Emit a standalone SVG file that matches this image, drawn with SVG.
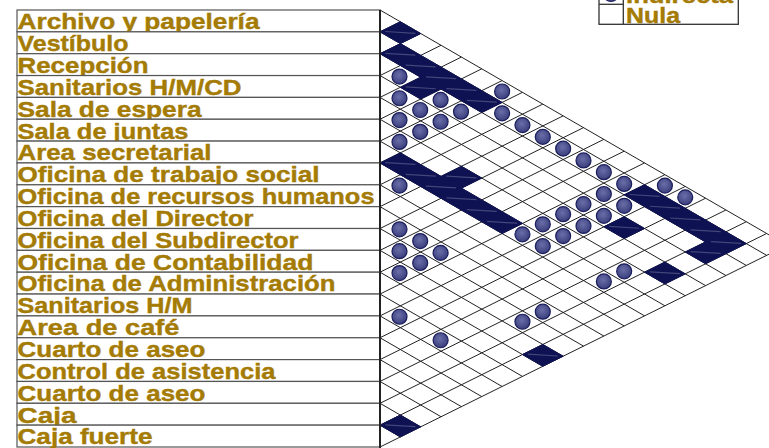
<svg xmlns="http://www.w3.org/2000/svg" width="769" height="448" viewBox="0 0 769 448">
<style>
.lbl{font-family:"Liberation Sans",Arial,sans-serif;font-weight:bold;font-size:22px;fill:#a47b05;stroke:#a47b05;stroke-width:0.4}
.row{fill:#fff;stroke:#555;stroke-width:1.2}
.grid{fill:none;stroke:#222;stroke-width:1}
.dk{fill:#0e1253;stroke:#0e1253;stroke-width:1}
.st{stroke:#ffffff;stroke-opacity:0.22;stroke-width:1.2;fill:none}
.ci{fill:url(#cg);stroke:#1b1e5c;stroke-width:1.2}
</style>
<defs>
<radialGradient id="cg" cx="0.45" cy="0.4" r="0.6">
<stop offset="0" stop-color="#6a6ea8"/>
<stop offset="1" stop-color="#3a3e7c"/>
</radialGradient>
<g id="D"><path class="dk" d="M-20.35,-0.84 L0,-10.925 L20.35,0.84 L0,10.925 Z"/><path class="st" d="M-15,-1.2 L15,0.6"/></g>
<circle id="C" class="ci" r="7.5"/>
</defs>
<rect width="769" height="448" fill="#fff"/>
<g id="legend">
<rect x="599" y="-40" width="139.3" height="64.3" fill="#fff" stroke="#333" stroke-width="1.3"/>
<line x1="623.3" y1="-40" x2="623.3" y2="24.3" stroke="#333" stroke-width="1.3"/>
<line x1="599" y1="4.3" x2="623.3" y2="4.3" stroke="#333" stroke-width="1.3"/>
<use href="#C" x="611" y="-6"/>
<text class="lbl" x="626" y="2.5" textLength="107" lengthAdjust="spacingAndGlyphs">Indirecta</text>
<text class="lbl" x="626" y="22.5" textLength="54" lengthAdjust="spacingAndGlyphs">Nula</text>
</g>
<g id="labels">
<g id="r0"><rect class="row" x="17" y="10" width="363" height="21.85"/><text class="lbl" x="17.5" y="29.25" textLength="242" lengthAdjust="spacingAndGlyphs">Archivo y papelería</text></g>
<g id="r1"><rect class="row" x="17" y="31.85" width="363" height="21.85"/><text class="lbl" x="17.5" y="51.1" textLength="111" lengthAdjust="spacingAndGlyphs">Vestíbulo</text></g>
<g id="r2"><rect class="row" x="17" y="53.7" width="363" height="21.85"/><text class="lbl" x="17.5" y="72.95" textLength="131" lengthAdjust="spacingAndGlyphs">Recepción</text></g>
<g id="r3"><rect class="row" x="17" y="75.55" width="363" height="21.85"/><text class="lbl" x="17.5" y="94.8" textLength="224" lengthAdjust="spacingAndGlyphs">Sanitarios H/M/CD</text></g>
<g id="r4"><rect class="row" x="17" y="97.4" width="363" height="21.85"/><text class="lbl" x="17.5" y="116.65" textLength="184" lengthAdjust="spacingAndGlyphs">Sala de espera</text></g>
<g id="r5"><rect class="row" x="17" y="119.25" width="363" height="21.85"/><text class="lbl" x="17.5" y="138.5" textLength="171" lengthAdjust="spacingAndGlyphs">Sala de juntas</text></g>
<g id="r6"><rect class="row" x="17" y="141.1" width="363" height="21.85"/><text class="lbl" x="17.5" y="160.35" textLength="194" lengthAdjust="spacingAndGlyphs">Area secretarial</text></g>
<g id="r7"><rect class="row" x="17" y="162.95" width="363" height="21.85"/><text class="lbl" x="17.5" y="182.2" textLength="302" lengthAdjust="spacingAndGlyphs">Oficina de trabajo social</text></g>
<g id="r8"><rect class="row" x="17" y="184.8" width="363" height="21.85"/><text class="lbl" x="17.5" y="204.05" textLength="357" lengthAdjust="spacingAndGlyphs">Oficina de recursos humanos</text></g>
<g id="r9"><rect class="row" x="17" y="206.65" width="363" height="21.85"/><text class="lbl" x="17.5" y="225.9" textLength="236" lengthAdjust="spacingAndGlyphs">Oficina del Director</text></g>
<g id="r10"><rect class="row" x="17" y="228.5" width="363" height="21.85"/><text class="lbl" x="17.5" y="247.75" textLength="281" lengthAdjust="spacingAndGlyphs">Oficina del Subdirector</text></g>
<g id="r11"><rect class="row" x="17" y="250.35" width="363" height="21.85"/><text class="lbl" x="17.5" y="269.6" textLength="296" lengthAdjust="spacingAndGlyphs">Oficina de Contabilidad</text></g>
<g id="r12"><rect class="row" x="17" y="272.2" width="363" height="21.85"/><text class="lbl" x="17.5" y="291.45" textLength="318" lengthAdjust="spacingAndGlyphs">Oficina de Administración</text></g>
<g id="r13"><rect class="row" x="17" y="294.05" width="363" height="21.85"/><text class="lbl" x="17.5" y="313.3" textLength="175" lengthAdjust="spacingAndGlyphs">Sanitarios H/M</text></g>
<g id="r14"><rect class="row" x="17" y="315.9" width="363" height="21.85"/><text class="lbl" x="17.5" y="335.15" textLength="162" lengthAdjust="spacingAndGlyphs">Area de café</text></g>
<g id="r15"><rect class="row" x="17" y="337.75" width="363" height="21.85"/><text class="lbl" x="17.5" y="357" textLength="188" lengthAdjust="spacingAndGlyphs">Cuarto de aseo</text></g>
<g id="r16"><rect class="row" x="17" y="359.6" width="363" height="21.85"/><text class="lbl" x="17.5" y="378.85" textLength="258" lengthAdjust="spacingAndGlyphs">Control de asistencia</text></g>
<g id="r17"><rect class="row" x="17" y="381.45" width="363" height="21.85"/><text class="lbl" x="17.5" y="400.7" textLength="188" lengthAdjust="spacingAndGlyphs">Cuarto de aseo</text></g>
<g id="r18"><rect class="row" x="17" y="403.3" width="363" height="21.85"/><text class="lbl" x="17.5" y="422.55" textLength="59" lengthAdjust="spacingAndGlyphs">Caja</text></g>
<g id="r19"><rect class="row" x="17" y="425.15" width="363" height="21.85"/><text class="lbl" x="17.5" y="444.4" textLength="135" lengthAdjust="spacingAndGlyphs">Caja fuerte</text></g>
</g>
<g id="connectors">
<path class="grid" d="M380,10L787,245.26 M380,31.85L766.65,255.35 M380,53.7L746.3,265.43 M380,75.55L725.95,275.52 M380,97.4L705.6,285.61 M380,119.25L685.25,295.7 M380,141.1L664.9,305.78 M380,162.95L644.55,315.87 M380,184.8L624.2,325.96 M380,206.65L603.85,336.04 M380,228.5L583.5,346.13 M380,250.35L563.15,356.22 M380,272.2L542.8,366.3 M380,294.05L522.45,376.39 M380,315.9L502.1,386.48 M380,337.75L481.75,396.57 M380,359.6L461.4,406.65 M380,381.45L441.05,416.74 M380,403.3L420.7,426.83 M380,425.15L400.35,436.91"/>
<path class="grid" d="M380,31.85L400.35,21.76 M380,53.7L420.7,33.53 M380,75.55L441.05,45.29 M380,97.4L461.4,57.05 M380,119.25L481.75,68.82 M380,141.1L502.1,80.58 M380,162.95L522.45,92.34 M380,184.8L542.8,104.1 M380,206.65L563.15,115.87 M380,228.5L583.5,127.63 M380,250.35L603.85,139.39 M380,272.2L624.2,151.16 M380,294.05L644.55,162.92 M380,315.9L664.9,174.68 M380,337.75L685.25,186.45 M380,359.6L705.6,198.21 M380,381.45L725.95,209.97 M380,403.3L746.3,221.73 M380,425.15L766.65,233.5 M380,447L787,245.26"/>
</g>
<g id="cells">
<use href="#D" x="400.35" y="32.69"/>
<use href="#D" x="400.35" y="54.54"/>
<use href="#D" x="420.7" y="66.3"/>
<use href="#D" x="441.05" y="78.06"/>
<use href="#D" x="461.4" y="89.83"/>
<use href="#D" x="481.75" y="101.59"/>
<use href="#D" x="420.7" y="88.15"/>
<use href="#D" x="461.4" y="177.23"/>
<use href="#D" x="400.35" y="163.79"/>
<use href="#D" x="420.7" y="175.55"/>
<use href="#D" x="441.05" y="187.31"/>
<use href="#D" x="461.4" y="199.08"/>
<use href="#D" x="481.75" y="210.84"/>
<use href="#D" x="502.1" y="222.6"/>
<use href="#D" x="644.55" y="195.69"/>
<use href="#D" x="664.9" y="207.46"/>
<use href="#D" x="685.25" y="219.22"/>
<use href="#D" x="705.6" y="230.98"/>
<use href="#D" x="725.95" y="242.75"/>
<use href="#D" x="705.6" y="252.83"/>
<use href="#D" x="624.2" y="227.63"/>
<use href="#D" x="664.9" y="273.01"/>
<use href="#D" x="542.8" y="355.38"/>
<use href="#D" x="400.35" y="425.99"/>
<use href="#C" x="399.5" y="76.6"/>
<use href="#C" x="399.5" y="98.24"/>
<use href="#C" x="399.5" y="120.09"/>
<use href="#C" x="399.5" y="141.94"/>
<use href="#C" x="420.2" y="110"/>
<use href="#C" x="420.2" y="131.85"/>
<use href="#C" x="440.6" y="99.91"/>
<use href="#C" x="440.6" y="121.76"/>
<use href="#C" x="461" y="111.68"/>
<use href="#C" x="502.1" y="91.5"/>
<use href="#C" x="502.1" y="113.35"/>
<use href="#C" x="522.45" y="125.12"/>
<use href="#C" x="542.8" y="136.88"/>
<use href="#C" x="563.15" y="148.64"/>
<use href="#C" x="583.5" y="160.41"/>
<use href="#C" x="603.85" y="172.17"/>
<use href="#C" x="624.2" y="183.93"/>
<use href="#C" x="664.9" y="185.61"/>
<use href="#C" x="685.25" y="197.37"/>
<use href="#C" x="603.85" y="194.02"/>
<use href="#C" x="583.5" y="204.11"/>
<use href="#C" x="563.15" y="214.19"/>
<use href="#C" x="542.8" y="224.28"/>
<use href="#C" x="522.45" y="234.37"/>
<use href="#C" x="624.2" y="205.78"/>
<use href="#C" x="603.85" y="215.87"/>
<use href="#C" x="583.5" y="225.96"/>
<use href="#C" x="563.15" y="236.04"/>
<use href="#C" x="542.8" y="246.13"/>
<use href="#C" x="624.2" y="271.33"/>
<use href="#C" x="603.85" y="281.42"/>
<use href="#C" x="399.5" y="185.64"/>
<use href="#C" x="399.5" y="229.34"/>
<use href="#C" x="420.2" y="241.1"/>
<use href="#C" x="399.5" y="251.19"/>
<use href="#C" x="440.6" y="252.86"/>
<use href="#C" x="420.2" y="262.95"/>
<use href="#C" x="399.5" y="273.04"/>
<use href="#C" x="399.5" y="316.74"/>
<use href="#C" x="440.6" y="340.26"/>
<use href="#C" x="522.45" y="321.77"/>
<use href="#C" x="542.8" y="311.68"/>
</g>
<line x1="380" y1="10" x2="380" y2="448" stroke="#222" stroke-width="2"/>
</svg>
